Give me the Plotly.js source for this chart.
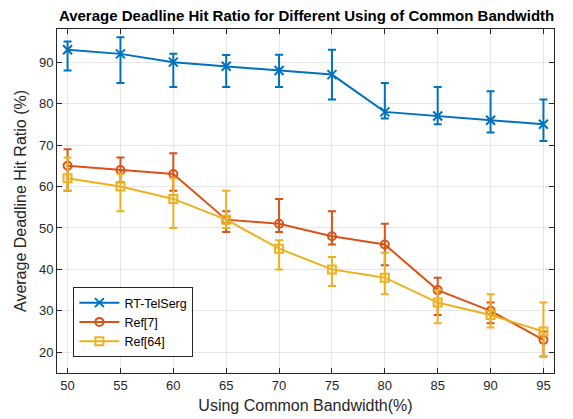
<!DOCTYPE html>
<html>
<head>
<meta charset="utf-8">
<script src="https://cdn.plot.ly/plotly-3.0.1.min.js"></script>
<style>html,body{margin:0;padding:0;background:#fff;}#chart{width:573px;height:419px;}</style>
</head>
<body>
<div id="chart"></div>
<script>
const bandwidth = [50, 55, 60, 65, 70, 75, 80, 85, 90, 95];

const rtTelSerg      = [93, 92, 90, 89, 88, 87, 78, 77, 76, 75];
const rtTelSergPlus  = [2, 4, 2, 2.7, 3.8, 6, 7, 7, 7, 6];
const rtTelSergMinus = [5, 7, 6, 5, 4, 6, 1.6, 2, 3, 4];

const ref7      = [65, 64, 63, 52, 51, 48, 46, 35, 30, 23];
const ref7Plus  = [4, 3, 5, 2, 6, 6, 5, 3, 2, 2];
const ref7Minus = [6, 3, 4, 3, 2, 2, 5, 6, 3, 4];

const ref64      = [62, 60, 57, 52, 45, 40, 38, 32, 29, 25];
const ref64Plus  = [5, 3, 5, 7, 2, 3, 6, 3, 5, 7];
const ref64Minus = [3, 6, 7, 2, 5, 4, 4, 5, 3, 6];

const seriesNames = ['RT-TelSerg', 'Ref[7]', 'Ref[64]'];
const xTicks = [50, 55, 60, 65, 70, 75, 80, 85, 90, 95];
const yTicks = [20, 30, 40, 50, 60, 70, 80, 90];

function trace(name, y, plus, minus, color, symbol) {
  return {
    x: bandwidth, y: y, name: name, type: 'scatter', mode: 'lines+markers',
    line: {color: color, width: 2},
    marker: {symbol: symbol, size: 8, color: color, line: {color: color, width: 2}},
    error_y: {type: 'data', symmetric: false, array: plus, arrayminus: minus,
              color: color, thickness: 2, width: 4}
  };
}

const data = [
  trace(seriesNames[0], rtTelSerg, rtTelSergPlus, rtTelSergMinus, '#0072BD', 'x-thin-open'),
  trace(seriesNames[1], ref7, ref7Plus, ref7Minus, '#D95319', 'circle-open'),
  trace(seriesNames[2], ref64, ref64Plus, ref64Minus, '#EDB120', 'square-open')
];
data[0].marker.size = 9;

const axisCommon = {
  showline: true, linecolor: '#262626', linewidth: 1, mirror: 'allticks',
  ticks: 'inside', ticklen: 5, tickcolor: '#262626', tickwidth: 1,
  showgrid: true, gridcolor: '#e6e6e6', gridwidth: 1, zeroline: false,
  tickfont: {family: 'Liberation Sans, Arial, sans-serif', size: 13, color: '#262626'}
};

const layout = {
  width: 573, height: 419,
  margin: {l: 57, r: 19, t: 29, b: 46},
  paper_bgcolor: '#fff', plot_bgcolor: '#fff',
  font: {family: 'Liberation Sans, Arial, sans-serif', color: '#262626'},
  title: {text: '<b>Average Deadline Hit Ratio for Different Using of Common Bandwidth</b>',
          font: {size: 15, color: '#000'}, x: 0.535, xanchor: 'center', y: 0.963, yanchor: 'middle'},
  xaxis: Object.assign({}, axisCommon, {
    range: [49, 96], tickvals: xTicks, ticktext: xTicks.map(String),
    title: {text: 'Using Common Bandwidth(%)', font: {size: 16, color: '#262626'}, standoff: 8}
  }),
  yaxis: Object.assign({}, axisCommon, {
    range: [15, 98], tickvals: yTicks, ticktext: yTicks.map(String),
    title: {text: 'Average Deadline Hit Ratio (%)', font: {size: 16, color: '#262626'}, standoff: 8}
  }),
  showlegend: true,
  legend: {x: 0.033, y: 0.25, xanchor: 'left', yanchor: 'top',
           bgcolor: '#fff', bordercolor: '#262626', borderwidth: 1,
           font: {size: 12.5, color: '#000'}, tracegroupgap: 0, itemwidth: 40}
};

Plotly.newPlot('chart', data, layout, {displayModeBar: false, staticPlot: true});
</script>
</body>
</html>
